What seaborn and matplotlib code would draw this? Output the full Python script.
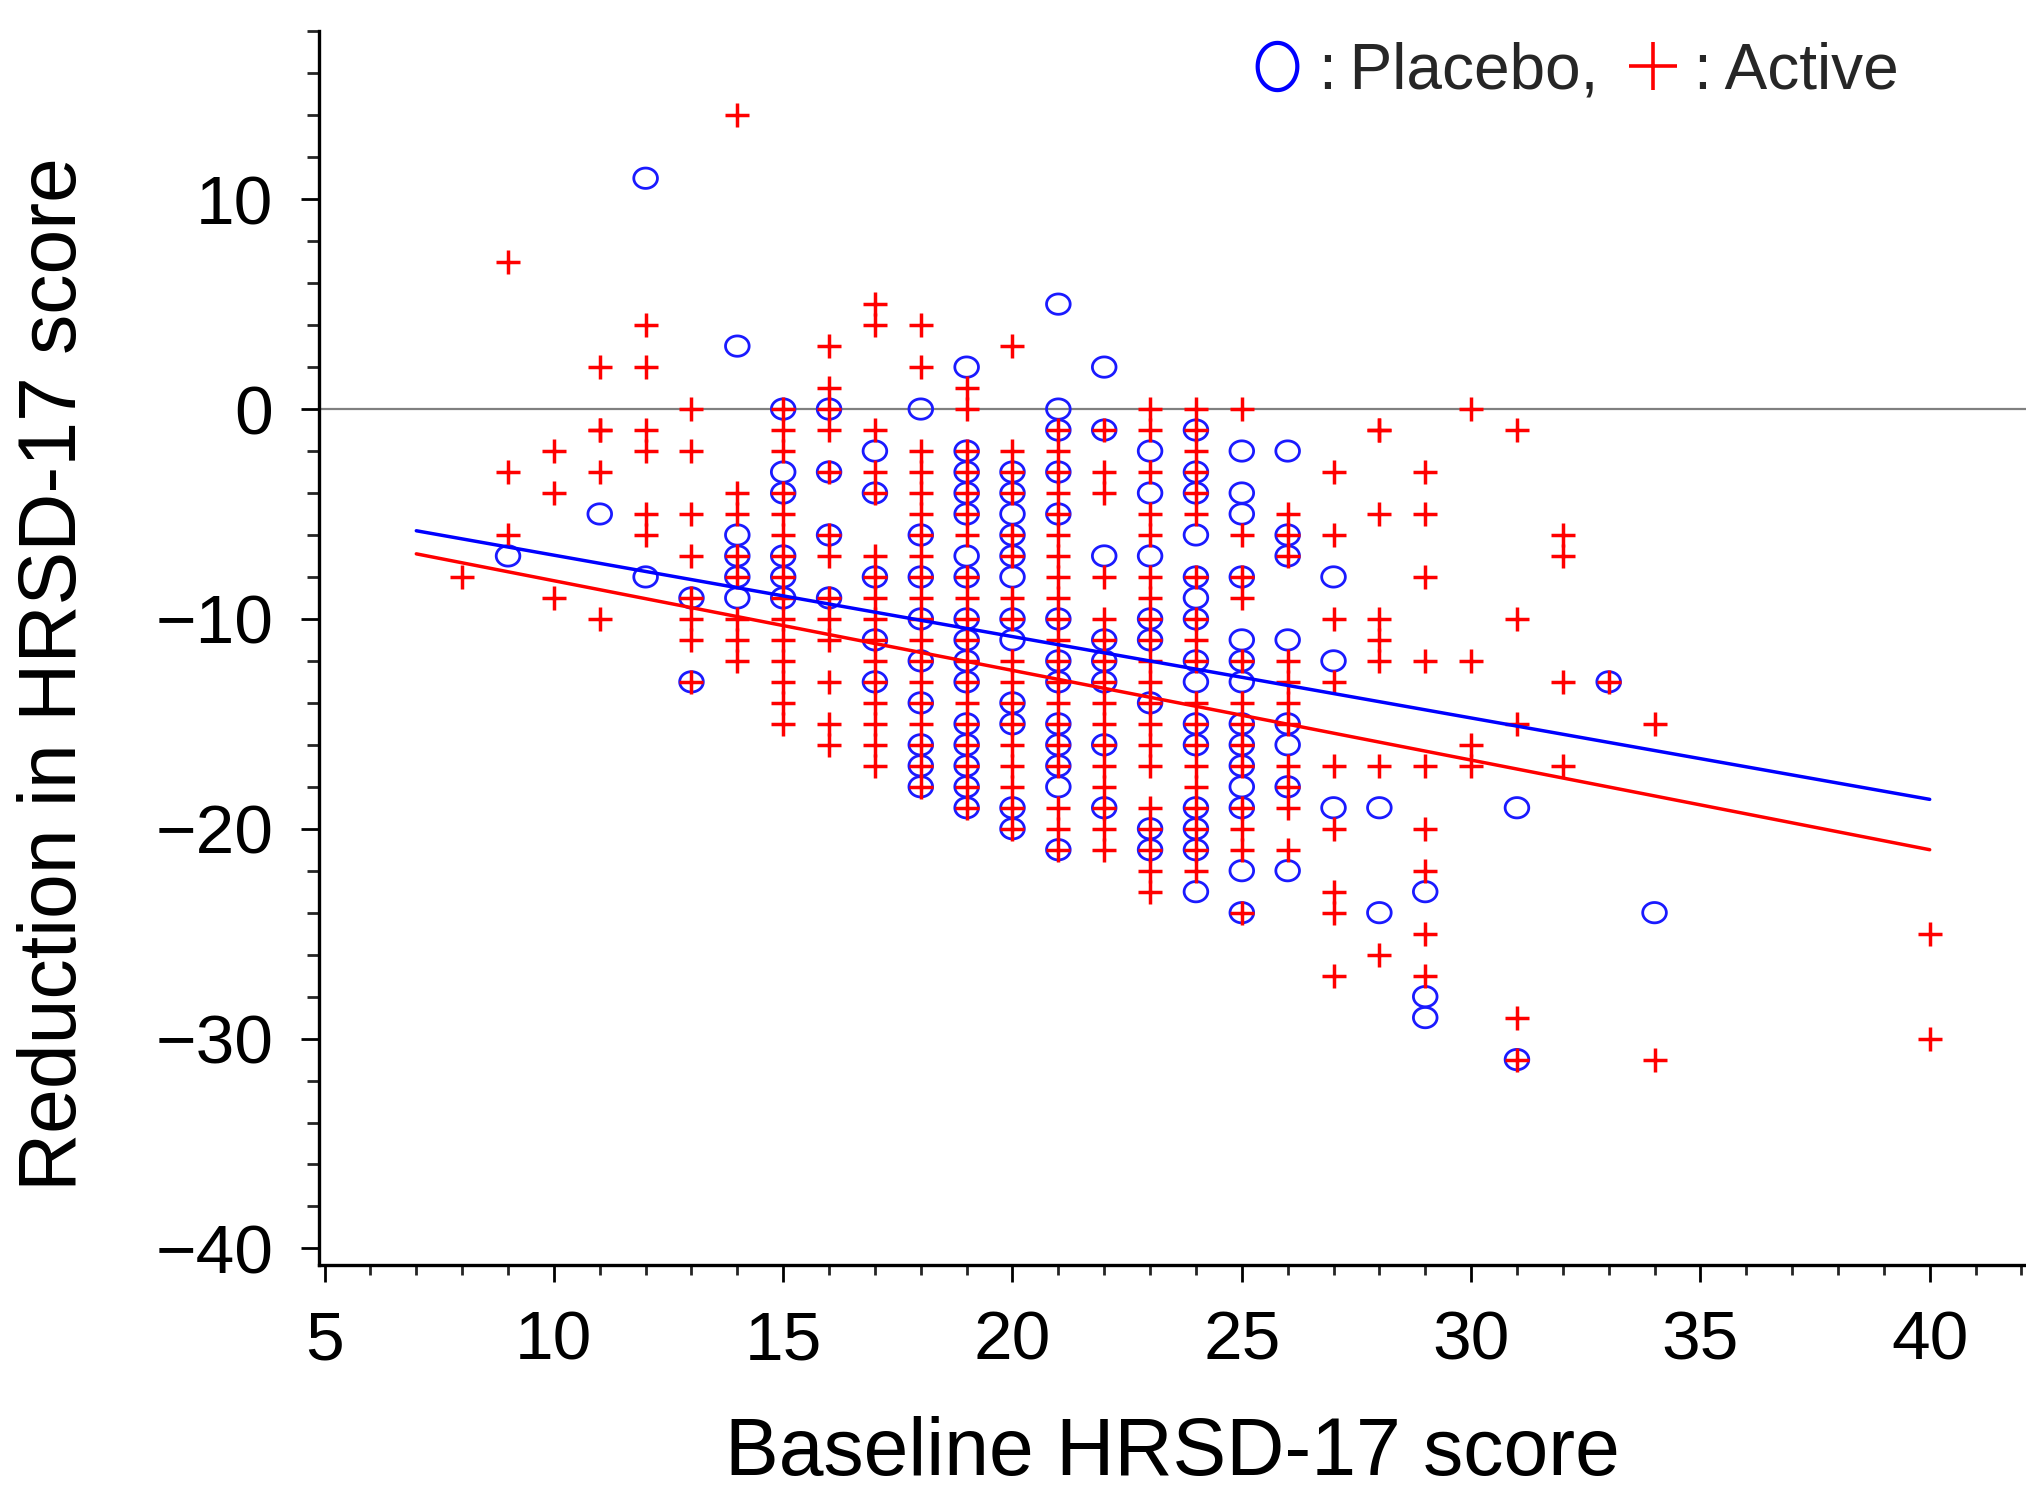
import numpy as np
import pandas as pd
import matplotlib
matplotlib.use("Agg")
import matplotlib.pyplot as plt
from matplotlib.path import Path
from matplotlib.lines import Line2D
from matplotlib.ticker import MultipleLocator
import seaborn as sns

# ---------------- data ----------------
# Placebo: baseline score -> reductions observed at that baseline
placebo_baseline = (
    [9] + [11] + [12] * 2 + [13] * 2 + [14] * 5 + [15] * 6 + [16] * 4 + [17] * 5
    + [18] * 9 + [19] * 16 + [20] * 12 + [21] * 13 + [22] * 8 + [23] * 8
    + [24] * 15 + [25] * 14 + [26] * 8 + [27] * 3 + [28] * 2 + [29] * 3
    + [31] * 2 + [33] + [34]
)
placebo_reduction = (
    [-7]                                                     # 9
    + [-5]                                                   # 11
    + [11, -8]                                               # 12
    + [-9, -13]                                              # 13
    + [3, -6, -7, -8, -9]                                    # 14
    + [0, -3, -4, -7, -8, -9]                                # 15
    + [0, -3, -6, -9]                                        # 16
    + [-2, -4, -8, -11, -13]                                 # 17
    + [0, -6, -8, -10, -12, -14, -16, -17, -18]              # 18
    + [2, -2, -3, -4, -5, -7, -8, -10, -11, -12, -13, -15, -16, -17, -18, -19]  # 19
    + [-3, -4, -5, -6, -7, -8, -10, -11, -14, -15, -19, -20]  # 20
    + [5, 0, -1, -3, -5, -10, -12, -13, -15, -16, -17, -18, -21]  # 21
    + [2, -1, -7, -11, -12, -13, -16, -19]                   # 22
    + [-2, -4, -7, -10, -11, -14, -20, -21]                  # 23
    + [-1, -3, -4, -6, -8, -9, -10, -12, -13, -15, -16, -19, -20, -21, -23]  # 24
    + [-2, -4, -5, -8, -11, -12, -13, -15, -16, -17, -18, -19, -22, -24]  # 25
    + [-2, -6, -7, -11, -15, -16, -18, -22]                  # 26
    + [-8, -12, -19]                                         # 27
    + [-19, -24]                                             # 28
    + [-23, -28, -29]                                        # 29
    + [-19, -31]                                             # 31
    + [-13]                                                  # 33
    + [-24]                                                  # 34
)

active_baseline = (
    [8] + [9] * 3 + [10] * 3 + [11] * 5 + [12] * 6 + [13] * 8 + [14] * 8
    + [15] * 15 + [16] * 13 + [17] * 16 + [18] * 19 + [19] * 19 + [20] * 17
    + [21] * 20 + [22] * 16 + [23] * 20 + [24] * 19 + [25] * 13 + [26] * 11
    + [27] * 9 + [28] * 8 + [29] * 9 + [30] * 4 + [31] * 5 + [32] * 4
    + [33] + [34] * 2 + [40] * 2
)
active_reduction = (
    [-8]                                                     # 8
    + [7, -3, -6]                                            # 9
    + [-2, -4, -9]                                           # 10
    + [2, -1, -1, -3, -10]                                   # 11
    + [4, 2, -1, -2, -5, -6]                                 # 12
    + [0, -2, -5, -7, -9, -10, -11, -13]                     # 13
    + [14, -4, -5, -7, -8, -10, -11, -12]                    # 14
    + [0, -1, -2, -4, -5, -6, -7, -8, -9, -10, -11, -12, -13, -14, -15]  # 15
    + [3, 1, 0, -1, -3, -6, -7, -9, -10, -11, -13, -15, -16]  # 16
    + [5, 4, -1, -3, -4, -7, -8, -9, -10, -11, -12, -13, -14, -15, -16, -17]  # 17
    + [4, 2, -2, -3, -4, -5, -6, -7, -8, -9, -10, -11, -12, -13, -14, -15, -16, -17, -18]  # 18
    + [1, 0, -2, -3, -4, -5, -6, -8, -9, -10, -11, -12, -13, -14, -15, -16, -17, -18, -19]  # 19
    + [3, -2, -3, -4, -6, -7, -9, -10, -12, -13, -14, -15, -16, -17, -18, -19, -20]  # 20
    + [-1, -2, -3, -4, -5, -6, -7, -8, -9, -10, -11, -12, -13, -14, -15, -16, -17, -19, -20, -21]  # 21
    + [-1, -3, -4, -8, -10, -11, -12, -13, -14, -15, -16, -17, -18, -19, -20, -21]  # 22
    + [0, -1, -3, -5, -6, -8, -9, -10, -11, -12, -13, -14, -15, -16, -17, -19, -20, -21, -22, -23]  # 23
    + [0, -1, -2, -3, -4, -5, -8, -10, -11, -12, -14, -15, -16, -17, -18, -19, -20, -21, -22]  # 24
    + [0, -6, -8, -9, -12, -14, -15, -16, -17, -19, -20, -21, -24]  # 25
    + [-5, -6, -7, -12, -13, -14, -15, -17, -18, -19, -21]   # 26
    + [-3, -6, -10, -13, -17, -20, -23, -24, -27]            # 27
    + [-1, -1, -5, -10, -11, -12, -17, -26]                  # 28
    + [-3, -5, -8, -12, -17, -20, -22, -25, -27]             # 29
    + [0, -12, -16, -17]                                     # 30
    + [-1, -10, -15, -29, -31]                               # 31
    + [-6, -7, -13, -17]                                     # 32
    + [-13]                                                  # 33
    + [-15, -31]                                             # 34
    + [-25, -30]                                             # 40
)

# fitted regression lines (end points)
fit_baseline = [7, 40]
placebo_fit = [-5.8, -18.6]
active_fit = [-6.9, -21.0]

x_ticks = [5, 10, 15, 20, 25, 30, 35, 40]
y_ticks = [10, 0, -10, -20, -30, -40]

# ---------------- style ----------------
sns.set_theme(style="ticks")
plt.rcParams["font.family"] = ["Liberation Sans", "DejaVu Sans"]
plt.rcParams["axes.unicode_minus"] = True

placebo_df = pd.DataFrame({"baseline": placebo_baseline, "reduction": placebo_reduction})
active_df = pd.DataFrame({"baseline": active_baseline, "reduction": active_reduction})

# ellipse marker (slightly wider than tall like in the reference)
t = np.linspace(0, 2 * np.pi, 73)
ellipse = Path(np.column_stack([np.cos(t), 0.86 * np.sin(t)]), closed=True)
ellipse_tall = Path(np.column_stack([0.84 * np.cos(t), np.sin(t)]), closed=True)

fig = plt.figure(figsize=(20.26, 14.92), dpi=100)
ax = fig.add_axes([0.1575, 0.152, 0.8425, 0.827])

ax.axhline(0, color="#808080", lw=1.6, zorder=1)

sns.scatterplot(data=placebo_df, x="baseline", y="reduction", ax=ax,
                marker=ellipse, s=290, facecolors="none", edgecolor="#1a1aff",
                linewidth=2.0, zorder=3, legend=False)
sns.scatterplot(data=active_df, x="baseline", y="reduction", ax=ax,
                marker="+", s=300, color="#ff0000", linewidth=2.5,
                zorder=4, legend=False)

sns.lineplot(x=fit_baseline, y=placebo_fit, ax=ax, color="#0000ff", lw=2.5, zorder=5)
sns.lineplot(x=fit_baseline, y=active_fit, ax=ax, color="#ff0000", lw=2.5, zorder=5)

ax.set_xlim(4.88, 42.1)
ax.set_ylim(-40.8, 18.0)

ax.set_xticks(x_ticks)
ax.set_yticks(y_ticks)
ax.xaxis.set_minor_locator(MultipleLocator(1))
ax.yaxis.set_minor_locator(MultipleLocator(2))

for side in ["top", "right"]:
    ax.spines[side].set_visible(False)
for side in ["left", "bottom"]:
    ax.spines[side].set_linewidth(2.4)
    ax.spines[side].set_color("black")

ax.tick_params(axis="x", which="major", direction="out", length=12, width=2,
               labelsize=50, pad=20, colors="black")
ax.tick_params(axis="x", which="minor", direction="out", length=7, width=2)
ax.tick_params(axis="y", which="major", direction="out", length=13, width=2,
               labelsize=50, pad=20, colors="black")
ax.tick_params(axis="y", which="minor", direction="out", length=9, width=2)

ax.set_xlabel("Baseline HRSD-17 score", fontsize=58, color="black")
ax.set_ylabel("Reduction in HRSD-17 score", fontsize=58, color="black")
ax.xaxis.set_label_coords(0.5, -0.153)
ax.xaxis.label.set_verticalalignment("center")
ax.yaxis.set_label_coords(-0.155, 0.479)
ax.yaxis.label.set_verticalalignment("center")

handles = [
    Line2D([], [], ls="none", marker=ellipse_tall, ms=34, mfc="none",
           mec="#0000ff", mew=3),
    Line2D([], [], ls="none", marker="+", ms=34, color="#ff0000", mew=2.6),
]
ax.legend(handles, [":\u2009Placebo,", ":\u2009Active"], loc="center left",
          bbox_to_anchor=(0.621, 0.952), bbox_transform=fig.transFigure,
          ncol=2, frameon=False, fontsize=46, handlelength=0.6,
          handletextpad=0.35, columnspacing=0.55, borderpad=0, borderaxespad=0)

ax.set_facecolor("white")
fig.patch.set_facecolor("white")
fig.savefig("out.png", dpi=100, facecolor="white")
